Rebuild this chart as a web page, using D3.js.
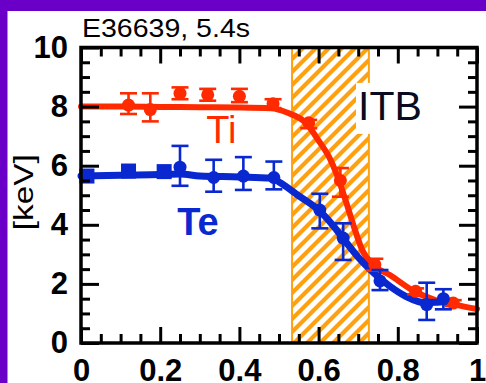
<!DOCTYPE html>
<html>
<head>
<meta charset="utf-8">
<script src="https://d3js.org/d3.v7.min.js"></script>
<style>
  body { margin: 0; background: #6a00c8; }
  svg { display: block; }
  text { font-family: "Liberation Sans", Arial, Helvetica, sans-serif; }
</style>
</head>
<body>
<script>
// profile data (normalized radius vs keV)
var xTicks = [0, 0.2, 0.4, 0.6, 0.8, 1];
var xTickLabels = ["0", "0.2", "0.4", "0.6", "0.8", "1"];
var yTicks = [0, 2, 4, 6, 8, 10];
var yTickLabels = ["0", "2", "4", "6", "8", "10"];

var itbBand = [0.533, 0.727];

// Ti fitted profile
var tiFitX = [0, 0.1, 0.2, 0.3, 0.4, 0.48, 0.52, 0.57, 0.6, 0.63, 0.65, 0.67, 0.69, 0.71, 0.74, 0.78, 0.84, 0.9, 0.95, 1.0];
var tiFitV = [8.0, 8.0, 7.99, 7.98, 7.97, 7.94, 7.8, 7.42, 6.85, 6.2, 5.55, 4.75, 3.9, 3.15, 2.62, 2.3, 1.76, 1.43, 1.28, 1.15];
// Ti measurements with error bars
var tiX  = [0.12, 0.175, 0.25, 0.32, 0.40, 0.485, 0.575, 0.655, 0.742, 0.845, 0.94];
var tiV  = [8.05, 7.9, 8.45, 8.4, 8.35, 8.1, 7.45, 5.5, 2.65, 1.75, 1.35];
var tiLo = [7.75, 7.5, 8.25, 8.2, 8.15, 7.95, 7.27, 4.95, 2.45, 1.65, 1.25];
var tiHi = [8.45, 8.45, 8.65, 8.6, 8.6, 8.25, 7.55, 5.92, 2.85, 1.85, 1.45];

// Te fitted profile
var teFitX = [0, 0.1, 0.2, 0.25, 0.3, 0.4, 0.48, 0.5, 0.55, 0.6, 0.64, 0.67, 0.7, 0.74, 0.78, 0.82, 0.87, 0.9, 0.935];
var teFitV = [5.65, 5.68, 5.7, 5.72, 5.65, 5.62, 5.58, 5.45, 4.98, 4.5, 3.92, 3.4, 2.9, 2.36, 1.92, 1.58, 1.36, 1.38, 1.42];
// Te square markers (no error bars)
var teSqX = [0.015, 0.12, 0.21];
var teSqV = [5.65, 5.82, 5.8];
// Te measurements with error bars
var teX  = [0.25, 0.335, 0.41, 0.487, 0.603, 0.662, 0.755, 0.873, 0.915];
var teV  = [5.95, 5.6, 5.65, 5.6, 4.5, 3.55, 2.1, 1.3, 1.5];
var teLo = [5.32, 5.12, 5.18, 5.2, 3.88, 2.81, 1.79, 0.78, 1.14];
var teHi = [6.67, 6.2, 6.29, 6.14, 5.05, 4.05, 2.47, 2.04, 1.82];

var red = "#ff2a00", blue = "#0a28d0", orange = "#ffa010";

var width = 486, height = 383;
var margin = {top: 47.5, right: 9, bottom: 40, left: 81};

var svg = d3.select("body").append("svg")
  .attr("width", width)
  .attr("height", height);

// white panel inside the purple frame
svg.append("rect")
  .attr("x", 7.5).attr("y", 11)
  .attr("width", width - 7.5).attr("height", height - 11)
  .attr("fill", "#fff");

var x = d3.scaleLinear().domain([0, 1]).range([margin.left, width - margin.right]);
var y = d3.scaleLinear().domain([0, 10]).range([height - margin.bottom, margin.top]);

// hatch pattern for the ITB region
var defs = svg.append("defs");
var pat = defs.append("pattern")
  .attr("id", "hatch")
  .attr("patternUnits", "userSpaceOnUse")
  .attr("width", 13).attr("height", 13);
pat.append("path")
  .attr("d", "M-3.25,3.25 l6.5,-6.5 M0,13 l13,-13 M9.75,16.25 l6.5,-6.5")
  .attr("stroke", orange)
  .attr("stroke-width", 4.2);

svg.append("rect")
  .attr("x", x(itbBand[0]))
  .attr("y", y(10))
  .attr("width", x(itbBand[1]) - x(itbBand[0]))
  .attr("height", y(0) - y(10))
  .attr("fill", "url(#hatch)")
  .attr("stroke", orange)
  .attr("stroke-width", 2);

// ITB label with white background
var itb = svg.append("text")
  .attr("x", x(0.6995)).attr("y", y(7.55))
  .attr("font-size", 41)
  .attr("fill", "#0a0a20")
  .text("ITB");
var bb = itb.node().getBBox();
svg.insert("rect", "text")
  .attr("x", bb.x - 2).attr("y", bb.y)
  .attr("width", bb.width + 4).attr("height", bb.height + 5)
  .attr("fill", "#fff");

// fitted lines
var line = d3.line()
  .x(d => x(d[0]))
  .y(d => y(d[1]))
  .curve(d3.curveMonotoneX);

svg.append("path")
  .datum(d3.zip(tiFitX, tiFitV))
  .attr("d", line)
  .attr("fill", "none")
  .attr("stroke", red)
  .attr("stroke-width", 6)
  .attr("stroke-linecap", "round")
  .attr("stroke-linejoin", "round");

svg.append("path")
  .datum(d3.zip(teFitX, teFitV))
  .attr("d", line)
  .attr("fill", "none")
  .attr("stroke", blue)
  .attr("stroke-width", 7)
  .attr("stroke-linecap", "round")
  .attr("stroke-linejoin", "round");

// error bars + markers
function drawPoints(xs, vs, lo, hi, color) {
  var g = svg.append("g").attr("stroke", color).attr("fill", color);
  var pts = d3.range(xs.length).map(i => ({x: xs[i], v: vs[i], lo: lo[i], hi: hi[i]}));
  var cap = 8.5;
  g.selectAll("line.bar").data(pts).enter().append("line")
    .attr("x1", d => x(d.x)).attr("x2", d => x(d.x))
    .attr("y1", d => y(d.lo)).attr("y2", d => y(d.hi))
    .attr("stroke-width", 2.6);
  g.selectAll("line.top").data(pts).enter().append("line")
    .attr("x1", d => x(d.x) - cap).attr("x2", d => x(d.x) + cap)
    .attr("y1", d => y(d.hi)).attr("y2", d => y(d.hi))
    .attr("stroke-width", 2.6);
  g.selectAll("line.bot").data(pts).enter().append("line")
    .attr("x1", d => x(d.x) - cap).attr("x2", d => x(d.x) + cap)
    .attr("y1", d => y(d.lo)).attr("y2", d => y(d.lo))
    .attr("stroke-width", 2.6);
  g.selectAll("circle").data(pts).enter().append("circle")
    .attr("cx", d => x(d.x)).attr("cy", d => y(d.v))
    .attr("r", 6.5)
    .attr("stroke", "none");
}

drawPoints(tiX, tiV, tiLo, tiHi, red);

svg.append("g").selectAll("rect")
  .data(d3.zip(teSqX, teSqV))
  .enter().append("rect")
  .attr("x", d => x(d[0]) - 7.5)
  .attr("y", d => y(d[1]) - 7.5)
  .attr("width", 15).attr("height", 15)
  .attr("fill", blue);

drawPoints(teX, teV, teLo, teHi, blue);

// series labels
svg.append("text")
  .attr("x", x(0.316)).attr("y", y(6.77))
  .attr("font-size", 38)
  .attr("fill", red)
  .text("Ti");

svg.append("text")
  .attr("x", x(0.243)).attr("y", y(3.66))
  .attr("font-size", 38)
  .attr("font-weight", "bold")
  .attr("fill", blue)
  .text("Te");

// axes: inward ticks on all four sides
var majorLen = 16, minorLen = 9;

function styleAxis(g) {
  g.select(".domain").remove();
  g.selectAll(".tick line").attr("stroke", "#000").attr("stroke-width", 3);
  g.selectAll(".tick text")
    .attr("fill", "#000")
    .attr("font-size", 31)
    .attr("font-weight", "bold")
    .attr("font-family", "'Liberation Sans', Arial, sans-serif");
}

var minorX = x.ticks(20).filter(v => xTicks.indexOf(+v.toFixed(2)) < 0);
var minorY = y.ticks(20).filter(v => yTicks.indexOf(v) < 0);

svg.append("g")
  .attr("transform", "translate(0," + y(0) + ")")
  .call(d3.axisBottom(x).tickValues(xTicks).tickFormat((d, i) => xTickLabels[i])
    .tickSizeInner(-majorLen).tickSizeOuter(0).tickPadding(16))
  .call(styleAxis);
svg.append("g")
  .attr("transform", "translate(0," + y(0) + ")")
  .call(d3.axisBottom(x).tickValues(minorX).tickFormat("").tickSizeInner(-minorLen).tickSizeOuter(0))
  .call(styleAxis);

svg.append("g")
  .attr("transform", "translate(0," + y(10) + ")")
  .call(d3.axisTop(x).tickValues(xTicks).tickFormat("").tickSizeInner(-majorLen).tickSizeOuter(0))
  .call(styleAxis);
svg.append("g")
  .attr("transform", "translate(0," + y(10) + ")")
  .call(d3.axisTop(x).tickValues(minorX).tickFormat("").tickSizeInner(-minorLen).tickSizeOuter(0))
  .call(styleAxis);

svg.append("g")
  .attr("transform", "translate(" + x(0) + ",0)")
  .call(d3.axisLeft(y).tickValues(yTicks).tickFormat((d, i) => yTickLabels[i])
    .tickSizeInner(-majorLen - 2).tickSizeOuter(0).tickPadding(13))
  .call(styleAxis);
svg.append("g")
  .attr("transform", "translate(" + x(0) + ",0)")
  .call(d3.axisLeft(y).tickValues(minorY).tickFormat("").tickSizeInner(-minorLen).tickSizeOuter(0))
  .call(styleAxis);

svg.append("g")
  .attr("transform", "translate(" + x(1) + ",0)")
  .call(d3.axisRight(y).tickValues(yTicks).tickFormat("").tickSizeInner(-majorLen - 2).tickSizeOuter(0))
  .call(styleAxis);
svg.append("g")
  .attr("transform", "translate(" + x(1) + ",0)")
  .call(d3.axisRight(y).tickValues(minorY).tickFormat("").tickSizeInner(-minorLen).tickSizeOuter(0))
  .call(styleAxis);

// frame
svg.append("rect")
  .attr("x", x(0)).attr("y", y(10))
  .attr("width", x(1) - x(0)).attr("height", y(0) - y(10))
  .attr("fill", "none")
  .attr("stroke", "#000")
  .attr("stroke-width", 3.5);

// title and y label
svg.append("text")
  .attr("x", 82).attr("y", 37)
  .attr("font-size", 26)
  .attr("textLength", 168)
  .attr("lengthAdjust", "spacingAndGlyphs")
  .attr("fill", "#000")
  .text("E36639, 5.4s");

svg.append("text")
  .attr("transform", "translate(33," + y(5.1) + ") rotate(-90)")
  .attr("text-anchor", "middle")
  .attr("font-size", 27)
  .attr("textLength", 76)
  .attr("lengthAdjust", "spacingAndGlyphs")
  .attr("fill", "#000")
  .text("[keV]");
</script>
</body>
</html>
